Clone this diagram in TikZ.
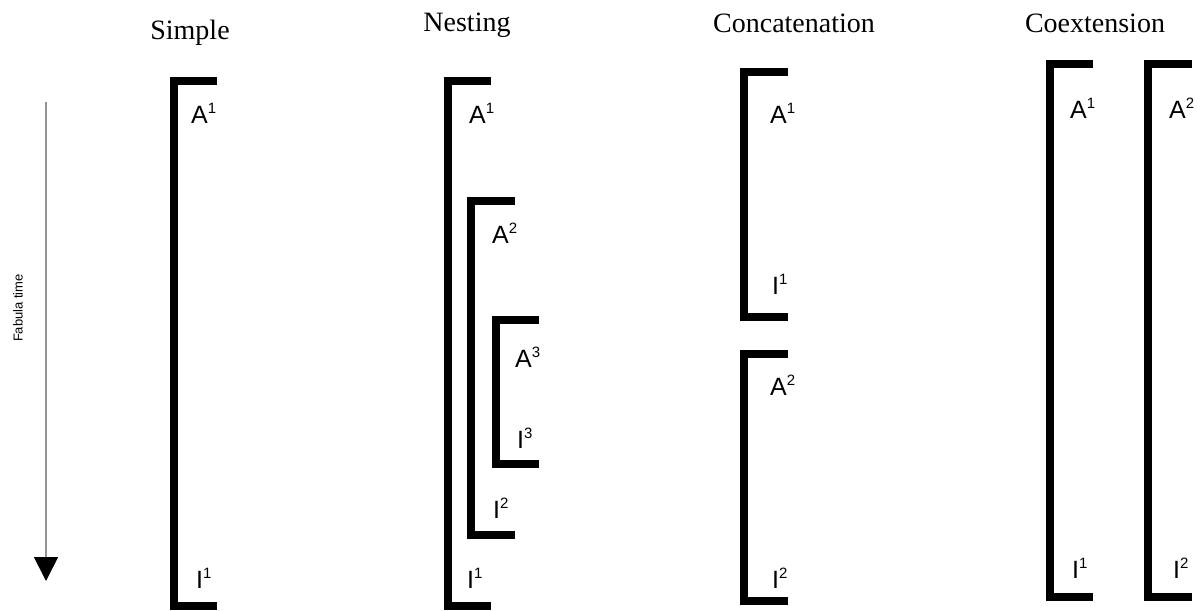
\documentclass[tikz,border=0pt]{standalone}
\usepackage{fontspec}
\setmainfont{Liberation Serif}
\newfontfamily\labelfont{Liberation Sans}
\usetikzlibrary{arrows.meta}
% letter with a small raised index, all in the label face
\newcommand{\idx}[2]{#1\raisebox{10pt}{\fontsize{15}{15}\selectfont #2}}
\begin{document}
\begin{tikzpicture}[x=1pt,y=-1pt,
  bracketline/.style={line width=8pt,line join=miter,line cap=butt},
  title/.style={anchor=base,font=\fontsize{28}{30}\selectfont,inner sep=0pt},
  tag/.style={anchor=base west,inner sep=0pt,font=\labelfont\fontsize{25}{27}\selectfont},
  timeaxis/.style={draw=gray!85,line width=1.6pt,-{Triangle[width=24pt,length=24pt,fill=black,color=black]}}]
\useasboundingbox (0,0) rectangle (1201,610);

% column titles
\node[title] (tSimple) at (190,40) {Simple};
\node[title] (tNesting) at (467,32) {Nesting};
\node[title] (tConcat) at (794,33) {Concatenation};
\node[title] (tCoext) at (1095,33) {Coextension};

% time axis
\coordinate (tStart) at (46,102);
\coordinate (tEnd) at (46,581);
\draw[timeaxis] (tStart) -- (tEnd);
\node[rotate=90,font=\labelfont\fontsize{13}{15}\selectfont] (tLabel) at (18,308) {Fabula time};

% Simple
\draw[bracketline] (217,81) -- (174,81) -- (174,606) -- (217,606);
\node[tag] (sA1) at (191,123) {\idx{A}{1}};
\node[tag] (sI1) at (196,588) {\idx{I}{1}};

% Nesting
\draw[bracketline] (491,81) -- (448,81) -- (448,606) -- (491,606);
\draw[bracketline] (515,201) -- (471,201) -- (471,535) -- (515,535);
\draw[bracketline] (539,320) -- (496,320) -- (496,464) -- (539,464);
\node[tag] (nA1) at (469,123) {\idx{A}{1}};
\node[tag] (nI1) at (467,588) {\idx{I}{1}};
\node[tag] (nA2) at (492,243) {\idx{A}{2}};
\node[tag] (nI2) at (493,518) {\idx{I}{2}};
\node[tag] (nA3) at (515,367) {\idx{A}{3}};
\node[tag] (nI3) at (517,448) {\idx{I}{3}};

% Concatenation
\draw[bracketline] (788,72) -- (744,72) -- (744,317) -- (788,317);
\draw[bracketline] (788,354) -- (744,354) -- (744,601) -- (788,601);
\node[tag] (cA1) at (770,123) {\idx{A}{1}};
\node[tag] (cI1) at (772,294) {\idx{I}{1}};
\node[tag] (cA2) at (770,395) {\idx{A}{2}};
\node[tag] (cI2) at (772,588) {\idx{I}{2}};

% Coextension
\draw[bracketline] (1093,64) -- (1050,64) -- (1050,597) -- (1093,597);
\draw[bracketline] (1192,64) -- (1148,64) -- (1148,597) -- (1192,597);
\node[tag] (xA1) at (1070,118) {\idx{A}{1}};
\node[tag] (xA2) at (1169,118) {\idx{A}{2}};
\node[tag] (xI1) at (1072,578) {\idx{I}{1}};
\node[tag] (xI2) at (1173,578) {\idx{I}{2}};
\end{tikzpicture}
\end{document}
